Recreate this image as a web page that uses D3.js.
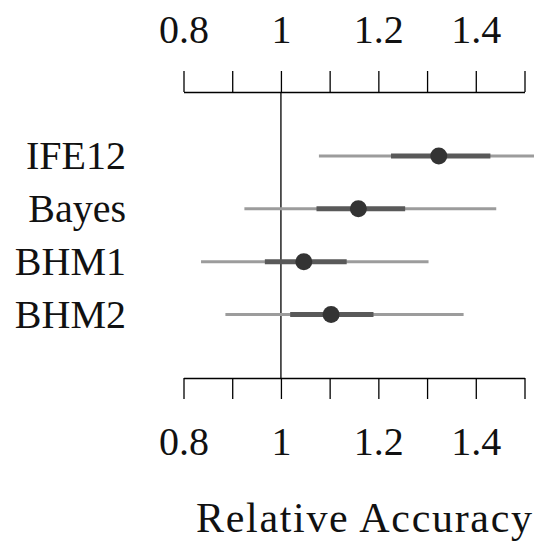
<!DOCTYPE html>
<html>
<head>
<meta charset="utf-8">
<script src="https://cdn.jsdelivr.net/npm/d3@7"></script>
<style>
  body { margin: 0; background: #fff; }
</style>
</head>
<body>
<script>
var width = 534
var height = 542
var serif = "'Liberation Serif', 'DejaVu Serif', 'Times New Roman', Times, serif"

// models, top to bottom
var models = ["IFE12", "Bayes", "BHM1", "BHM2"]
var estimate = [1.324, 1.159, 1.047, 1.103]
var lo50 = [1.226, 1.073, 0.967, 1.019]
var hi50 = [1.430, 1.255, 1.135, 1.190]
var lo95 = [1.078, 0.925, 0.836, 0.886]
var hi95 = [1.560, 1.442, 1.303, 1.375]

var tickVals = [0.8, 0.9, 1.0, 1.1, 1.2, 1.3, 1.4, 1.5]
var tickLabels = [0.8, 1.0, 1.2, 1.4]

var rows = models.map(function(m, i) {
    return {name: m, est: estimate[i], lo50: lo50[i], hi50: hi50[i], lo95: lo95[i], hi95: hi95[i]}
})

var svg = d3.select("body").append("svg")
    .attr("width", width)
    .attr("height", height)

var x = d3.scaleLinear().domain([0.8, 1.5]).range([183.5, 524.5])
var y = d3.scalePoint().domain(models).range([156, 314.5])

var fmt = function(d) {
    return tickLabels.some(function(t) { return Math.abs(t - d) < 1e-9 }) ? d3.format("~g")(d) : ""
}

function styleAxis(g, dy) {
    g.attr("font-size", null).attr("font-family", null)
    g.select(".domain").attr("stroke", "#000").attr("stroke-width", 1.3)
    g.selectAll(".tick line").attr("stroke", "#000").attr("stroke-width", 1.3)
    g.selectAll(".tick text")
        .style("font-family", serif)
        .style("font-size", "40px")
        .attr("fill", "#111")
        .attr("dy", dy)
}

// top axis
var axTop = svg.append("g")
    .attr("transform", "translate(0,92)")
    .call(d3.axisTop(x).tickValues(tickVals).tickFormat(fmt).tickSize(21).tickSizeOuter(0).tickPadding(28))
styleAxis(axTop, "0")

// bottom axis
var axBot = svg.append("g")
    .attr("transform", "translate(0,378)")
    .call(d3.axisBottom(x).tickValues(tickVals).tickFormat(fmt).tickSize(21).tickSizeOuter(0).tickPadding(28))
styleAxis(axBot, "0.71em")

// reference line at 1
svg.append("line")
    .attr("x1", x(1)).attr("x2", x(1))
    .attr("y1", 92).attr("y2", 378)
    .attr("stroke", "#000")
    .attr("stroke-width", 1.3)

// 95% intervals
svg.selectAll(".thin").data(rows).enter().append("line")
    .attr("class", "thin")
    .attr("x1", function(d) { return x(d.lo95) })
    .attr("x2", function(d) { return x(d.hi95) })
    .attr("y1", function(d) { return y(d.name) })
    .attr("y2", function(d) { return y(d.name) })
    .attr("stroke", "#9c9c9c")
    .attr("stroke-width", 3)

// 50% intervals
svg.selectAll(".thick").data(rows).enter().append("line")
    .attr("class", "thick")
    .attr("x1", function(d) { return x(d.lo50) })
    .attr("x2", function(d) { return x(d.hi50) })
    .attr("y1", function(d) { return y(d.name) })
    .attr("y2", function(d) { return y(d.name) })
    .attr("stroke", "#595959")
    .attr("stroke-width", 5)

// point estimates
svg.selectAll(".dot").data(rows).enter().append("circle")
    .attr("class", "dot")
    .attr("cx", function(d) { return x(d.est) })
    .attr("cy", function(d) { return y(d.name) })
    .attr("r", 8.5)
    .attr("fill", "#333")

// row labels
svg.selectAll(".lab").data(rows).enter().append("text")
    .attr("class", "lab")
    .attr("x", 126)
    .attr("y", function(d) { return y(d.name) + 13 })
    .attr("text-anchor", "end")
    .style("font-family", serif)
    .style("font-size", "40px")
    .attr("fill", "#111")
    .text(function(d) { return d.name })

// axis title
svg.append("text")
    .attr("x", 364)
    .attr("y", 532)
    .attr("text-anchor", "middle")
    .attr("textLength", 336)
    .attr("lengthAdjust", "spacing")
    .style("font-family", serif)
    .style("font-size", "42px")
    .attr("fill", "#111")
    .text("Relative Accuracy")
</script>
</body>
</html>
